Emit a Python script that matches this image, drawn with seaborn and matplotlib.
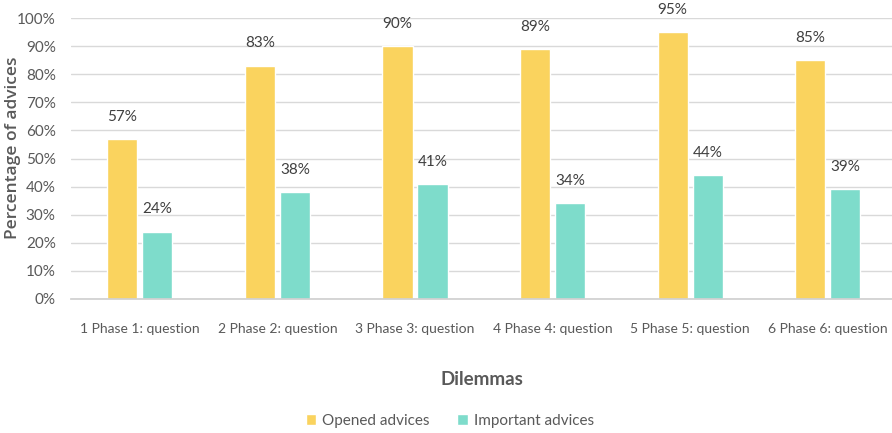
import matplotlib
matplotlib.use("Agg")
import matplotlib.pyplot as plt
import seaborn as sns
import pandas as pd

categories = ["1 Phase 1: question", "2 Phase 2: question", "3 Phase 3: question",
              "4 Phase 4: question", "5 Phase 5: question", "6 Phase 6: question"]
opened = [57, 83, 90, 89, 95, 85]
important = [24, 38, 41, 34, 44, 39]
series_names = ["Opened advices", "Important advices"]
yticks = [0, 10, 20, 30, 40, 50, 60, 70, 80, 90, 100]

df = pd.DataFrame({
    "Dilemmas": categories * 2,
    "value": opened + important,
    "series": [series_names[0]] * len(categories) + [series_names[1]] * len(categories),
})

sns.set_theme(style="white")
plt.rcParams["font.family"] = ["Lato", "DejaVu Sans"]

text_col = "#595959"
fig = plt.figure(figsize=(8.92, 4.33), dpi=100)
ax = fig.add_axes([71 / 892, 1 - 299 / 433, (892 - 71) / 892, (299 - 18) / 433])

sns.barplot(data=df, x="Dilemmas", y="value", hue="series",
            palette=["#FAD35E", "#7EDCCB"], width=0.51, gap=0.14,
            saturation=1, ax=ax, legend=True)

ax.set_ylim(0, 100)
ax.set_xlim(-0.5, -0.5 + (892 - 71) / 137.6)
ax.set_yticks(yticks)
ax.set_yticklabels([f"{t}%" for t in yticks], fontsize=11, color=text_col)
ax.tick_params(axis="x", labelsize=10, labelcolor=text_col, length=0, pad=17)
ax.tick_params(axis="y", length=0, pad=11)
ax.yaxis.grid(True, color="#d9d9d9", linewidth=1)
ax.set_axisbelow(True)
for s in ["top", "right", "left"]:
    ax.spines[s].set_visible(False)
ax.spines["bottom"].set_color("#d0d0d0")

for cont in ax.containers:
    ax.bar_label(cont, labels=[f"{v:.0f}%" for v in cont.datavalues],
                 padding=11, fontsize=11, color="#404040")

ax.set_ylabel("")
fig.text(13 / 892, 1 - 148 / 433, "Percentage of advices", rotation=90,
         ha="center", va="center", fontsize=12.5, color=text_col,
         family=["Open Sans", "DejaVu Sans"], fontweight="semibold")
ax.set_xlabel("Dilemmas", fontsize=13.5, fontweight="bold", color=text_col, labelpad=26)

handles, labels = ax.get_legend_handles_labels()
ax.get_legend().remove()
leg = fig.legend(handles, labels, loc="center", bbox_to_anchor=(450 / 892, 1 - 421 / 433),
                 ncol=2, frameon=False, fontsize=11, handlelength=0.7, handleheight=0.7,
                 columnspacing=1.8, handletextpad=0.4)
for t in leg.get_texts():
    t.set_color(text_col)

fig.savefig("out.png", dpi=100)
